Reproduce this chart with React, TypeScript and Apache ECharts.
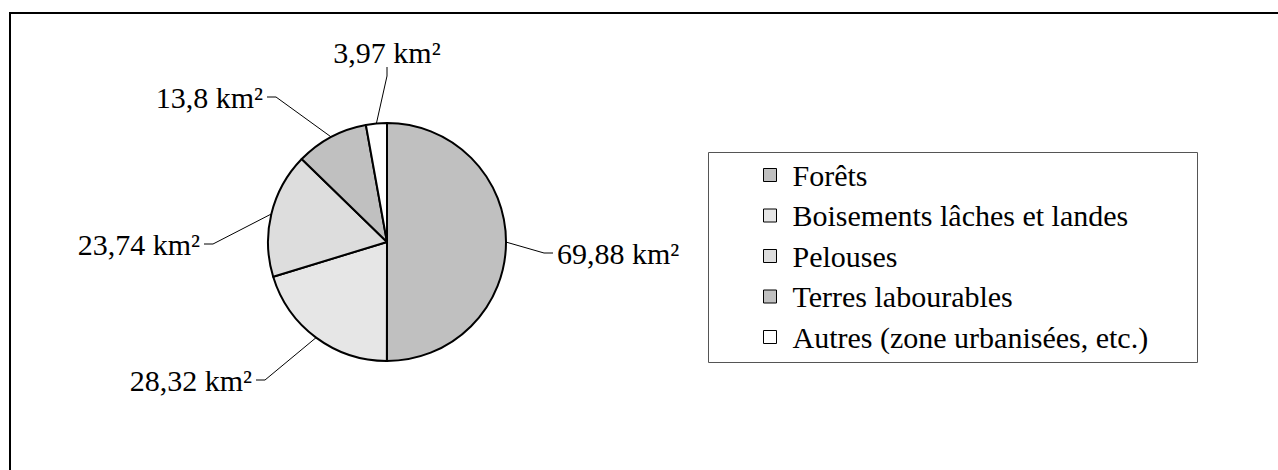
import React, { useEffect, useRef } from 'react';
import * as echarts from 'echarts';

const categories = [
  'Forêts',
  'Boisements lâches et landes',
  'Pelouses',
  'Terres labourables',
  'Autres (zone urbanisées, etc.)',
];
const values = [69.88, 28.32, 23.74, 13.8, 3.97];
const unit = 'km²';
const colors = ['#c0c0c0', '#e6e6e6', '#dddddd', '#c0c0c0', '#ffffff'];

// label anchor placement (layout only)
const labelPlacement = [
  { x: 553, y: 253, align: 'left' },
  { x: 256, y: 380, align: 'right' },
  { x: 204, y: 244, align: 'right' },
  { x: 267, y: 97, align: 'right' },
  { x: 387, y: 52, align: 'center' },
];

const FONT = '"Liberation Serif", "Times New Roman", serif';

export default function App() {
  const ref = useRef<HTMLDivElement>(null);
  useEffect(() => {
    if (!ref.current) return;
    const chart = echarts.init(ref.current, null, { renderer: 'svg' });
    const data = categories.map((name, i) => ({
      name,
      value: values[i],
      itemStyle: { color: colors[i] },
    }));
    chart.setOption({
      animation: false,
      backgroundColor: '#ffffff',
      textStyle: { fontFamily: FONT },
      graphic: [
        {
          type: 'line',
          shape: { x1: 9, y1: 13, x2: 1278, y2: 13 },
          style: { stroke: '#000', lineWidth: 2 },
        },
        {
          type: 'line',
          shape: { x1: 10, y1: 12, x2: 10, y2: 470 },
          style: { stroke: '#000', lineWidth: 2 },
        },
        {
          type: 'rect',
          z: -1,
          shape: { x: 708.5, y: 152.5, width: 489, height: 210 },
          style: { fill: 'none', stroke: '#555', lineWidth: 1 },
        },
      ],
      legend: {
        orient: 'vertical',
        left: 763,
        top: 160,
        padding: 0,
        itemWidth: 13,
        itemHeight: 13,
        itemGap: 10.5,
        icon: 'rect',
        selectedMode: false,
        data: categories,
        itemStyle: { borderColor: '#000', borderWidth: 1 },
        textStyle: {
          fontFamily: FONT,
          fontSize: 30,
          lineHeight: 30,
          color: '#000',
          padding: [0, 0, 0, 11],
        },
      },
      series: [
        {
          type: 'pie',
          center: [387, 242],
          radius: 119,
          startAngle: 90,
          clockwise: true,
          avoidLabelOverlap: false,
          emphasis: { disabled: true },
          itemStyle: { borderColor: '#000', borderWidth: 2 },
          label: {
            show: true,
            position: 'outside',
            fontFamily: FONT,
            fontSize: 30,
            lineHeight: 30,
            color: '#000',
            padding: [0, 4],
            formatter: (p: any) => String(p.value).replace('.', ',') + ' ' + unit,
          },
          labelLine: {
            show: true,
            length: 10,
            length2: 9,
            lineStyle: { color: '#000', width: 1 },
          },
          labelLayout: (params: any) => {
            const p = labelPlacement[params.dataIndex];
            return { x: p.x, y: p.y, align: p.align, verticalAlign: 'middle' };
          },
          data,
        },
      ],
    });
    return () => chart.dispose();
  }, []);
  return (
    <div
      ref={ref}
      style={{ position: 'fixed', left: 0, top: 0, width: 1278, height: 470 }}
    />
  );
}
